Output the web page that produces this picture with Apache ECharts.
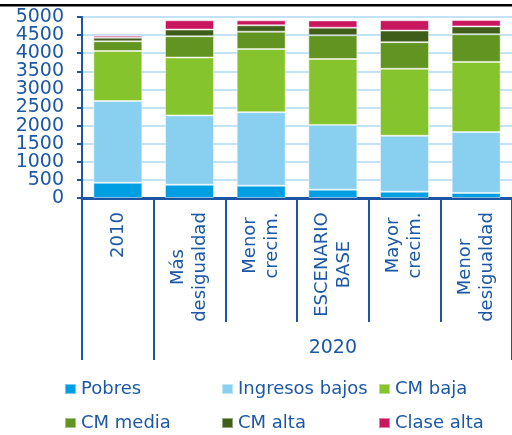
<!DOCTYPE html>
<html>
<head>
<meta charset="utf-8">
<style>html,body{margin:0;padding:0;background:#fff;}#c{width:512px;height:435px;}</style>
<script src="https://cdn.jsdelivr.net/npm/echarts@6/dist/echarts.min.js"></script>
</head>
<body>
<div id="c"></div>
<script>
const categories = ['2010', 'Más\ndesigualdad', 'Menor\ncrecim.', 'ESCENARIO\nBASE', 'Mayor\ncrecim.', 'Menor\ndesigualdad'];
const groupLabels = ['', '', '', '2020', '', ''];
const yTicks = { min: 0, max: 5000, interval: 500 };
const yLabelsA = [0, 1000, 2000, 3000, 4000, 5000];
const yLabelsB = [500, 1500, 2500, 3500, 4500];
const seriesNames = ['Pobres', 'Ingresos bajos', 'CM baja', 'CM media', 'CM alta', 'Clase alta'];
const pobres        = [420, 367, 340, 230, 175, 140];
const ingresosBajos = [2260, 1914, 2030, 1790, 1545, 1680];
const cmBaja        = [1380, 1600, 1745, 1820, 1850, 1940];
const cmMedia       = [270, 588, 480, 655, 735, 765];
const cmAlta        = [100, 184, 175, 210, 320, 215];
const claseAlta     = [55, 257, 137, 200, 285, 175];

const values = [pobres, ingresosBajos, cmBaja, cmMedia, cmAlta, claseAlta];
const colors = ['#009FE3', '#89CFF0', '#86C42E', '#629421', '#3F5E19', '#C8175E'];
const textColor = '#1C58A6';
const axisColor = '#1B55A3';
const gridColor = '#BFE0F3';
const font = 'DejaVu Sans';
const labelSize = 18;

// per-category block width so that lines are centred within each label block
const ctx = document.createElement('canvas').getContext('2d');
ctx.font = labelSize + 'px "' + font + '"';
const rich = {};
categories.forEach((c, i) => {
  const w = Math.ceil(Math.max.apply(null, c.split('\n').map(l => ctx.measureText(l).width)));
  rich['c' + i] = { width: w, align: 'center', color: textColor, fontSize: labelSize, fontFamily: font, lineHeight: 22 };
});

const chart = echarts.init(document.getElementById('c'), null, { renderer: 'canvas' });

const legendCols = [[0, 3], [1, 4], [2, 5]];
const legendLefts = [64, 221, 378];
const gridBox = { left: 82, top: 17, right: -6, bottom: 237, containLabel: false };

const yLabelStyle = { color: textColor, fontSize: 19, fontFamily: font, margin: 18, formatter: v => String(v) };

chart.setOption({
  animation: false,
  textStyle: { fontFamily: font },
  graphic: [{
    type: 'rect', left: 0, top: 4, shape: { width: 512, height: 2.5 },
    style: { fill: '#000' }, silent: true
  }],
  grid: [Object.assign({}, gridBox), Object.assign({}, gridBox)],
  legend: legendCols.map((idx, k) => ({
    orient: 'vertical',
    left: legendLefts[k],
    top: 379,
    height: 80,
    itemWidth: 11,
    itemHeight: 10,
    itemGap: 14,
    icon: 'rect',
    padding: 0,
    selectedMode: false,
    data: idx.map(i => seriesNames[i]),
    textStyle: { color: textColor, fontSize: 18, fontFamily: font, lineHeight: 20 }
  })),
  xAxis: [{
    type: 'category',
    gridIndex: 0,
    data: categories,
    boundaryGap: true,
    axisLine: { lineStyle: { color: axisColor, width: 3 } },
    axisTick: { show: true, length: 124, alignWithLabel: false, lineStyle: { color: axisColor, width: 2 } },
    axisLabel: {
      rotate: 90,
      margin: 14,
      color: textColor,
      fontSize: labelSize,
      fontFamily: font,
      lineHeight: 22,
      interval: 0,
      formatter: (v, i) => v.split('\n').map(l => '{c' + i + '|' + l + '}').join('\n'),
      rich: rich
    },
    splitLine: { show: false }
  }, {
    type: 'category',
    gridIndex: 1,
    data: groupLabels,
    position: 'bottom',
    boundaryGap: true,
    axisLine: { show: false },
    axisTick: { show: true, length: 162, interval: (i) => i === 0 || i === 1, lineStyle: { color: axisColor, width: 2 } },
    axisLabel: { interval: 0, margin: 141, color: textColor, fontSize: 19, fontFamily: font },
    splitLine: { show: false }
  }],
  yAxis: [{
    type: 'value',
    gridIndex: 0,
    position: 'left',
    offset: 0,
    min: yTicks.min, max: yTicks.max, interval: yTicks.interval,
    axisLine: { show: true, lineStyle: { color: axisColor, width: 2 } },
    axisTick: { show: true, length: 5, lineStyle: { color: axisColor, width: 2 } },
    axisLabel: Object.assign({ customValues: yLabelsA, showMinLabel: true, showMaxLabel: true }, yLabelStyle),
    splitLine: { show: true, lineStyle: { color: gridColor, width: 1.5 } }
  }, {
    type: 'value',
    gridIndex: 0,
    position: 'left',
    offset: 0,
    min: yTicks.min, max: yTicks.max, interval: yTicks.interval,
    axisLine: { show: false },
    axisTick: { show: false },
    axisLabel: Object.assign({ customValues: yLabelsB }, yLabelStyle),
    splitLine: { show: true, lineStyle: { color: gridColor, width: 1.5 } }
  }, {
    type: 'value',
    gridIndex: 1,
    show: false,
    min: yTicks.min, max: yTicks.max
  }],
  series: seriesNames.map((name, i) => ({
    name: name,
    type: 'bar',
    stack: 'total',
    xAxisIndex: 0,
    yAxisIndex: 0,
    barWidth: 49,
    data: values[i],
    itemStyle: { color: colors[i], borderColor: 'rgba(255,255,255,0.45)', borderWidth: 1 }
  }))
});
</script>
</body>
</html>
